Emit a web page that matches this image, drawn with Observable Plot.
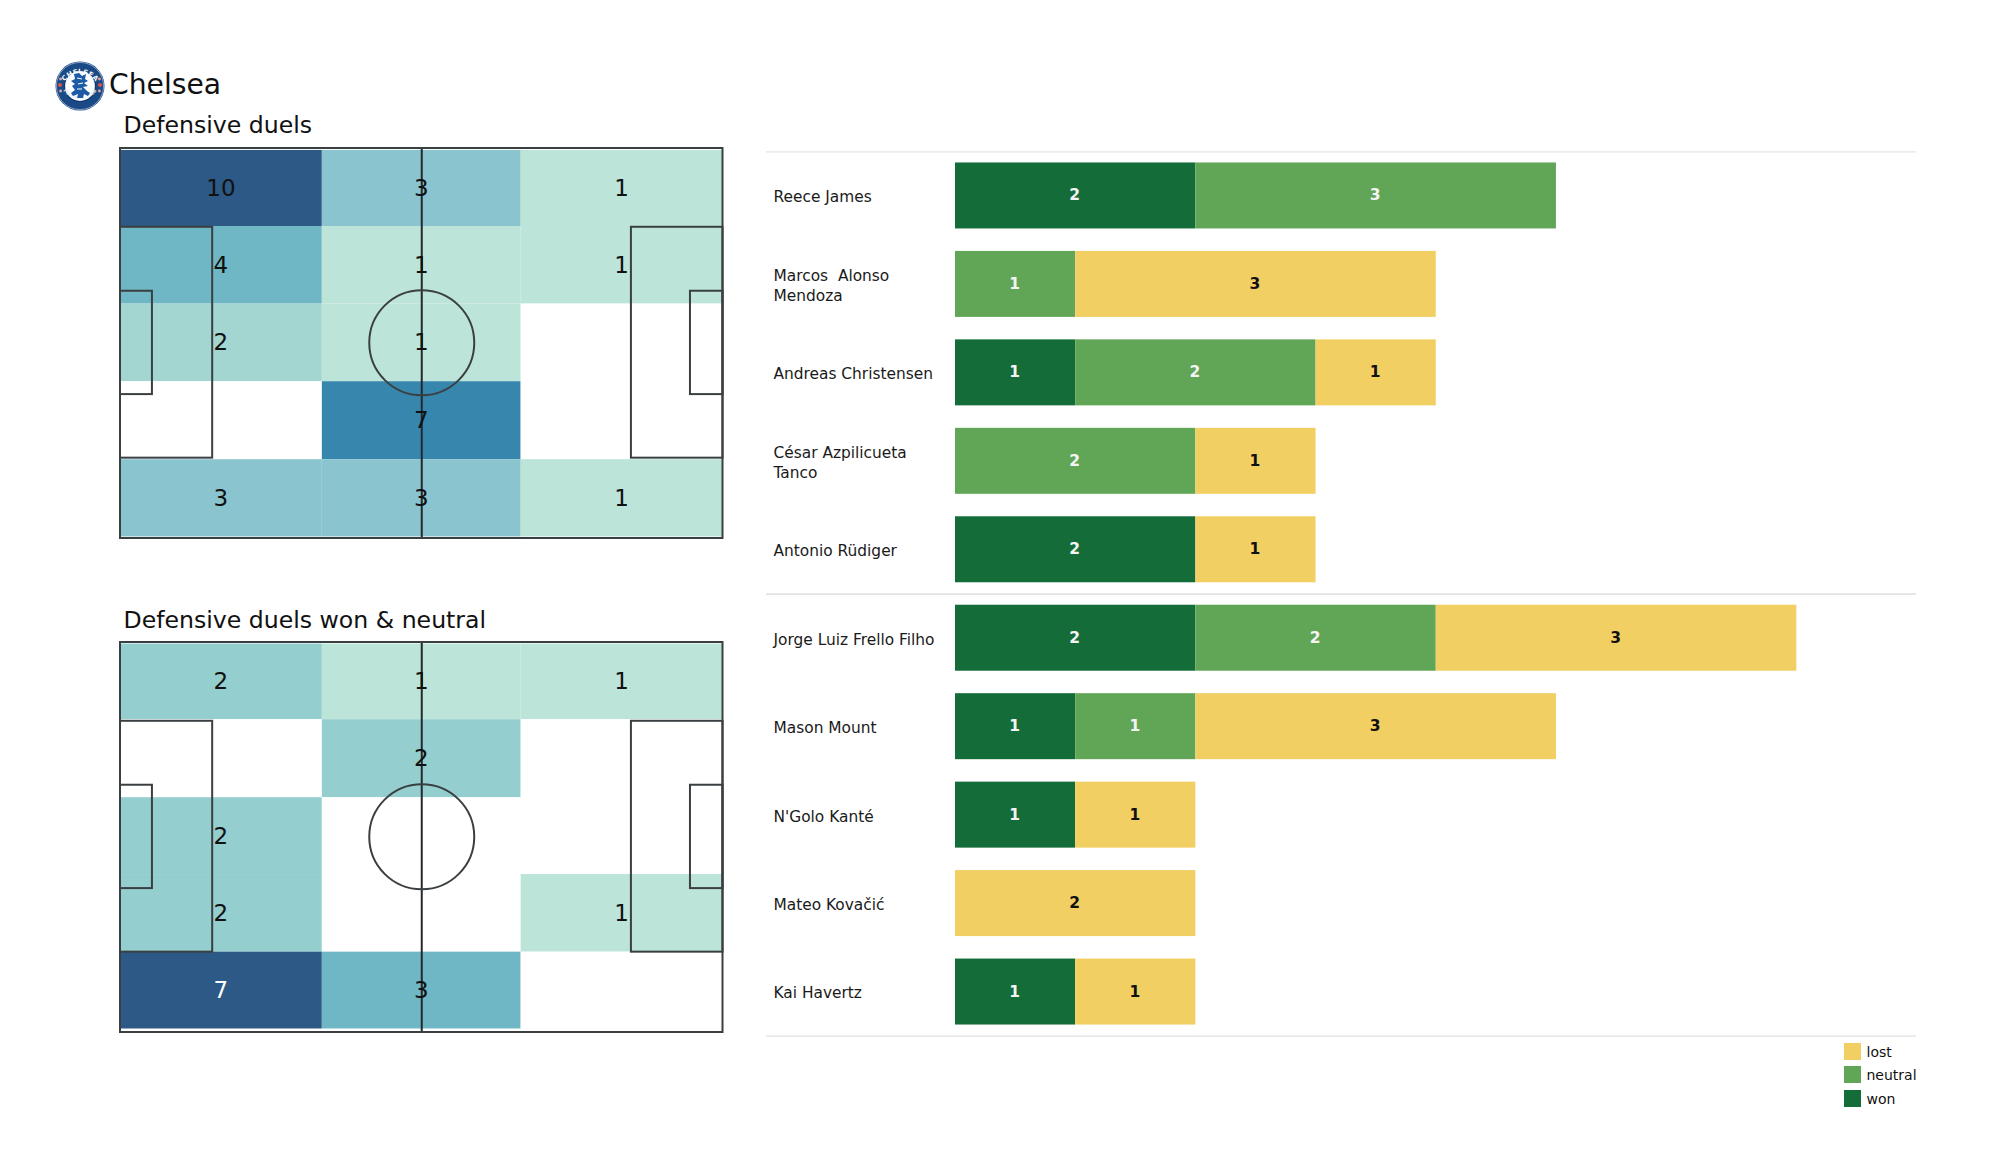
<!DOCTYPE html>
<html><head><meta charset="utf-8">
<script src="https://cdn.jsdelivr.net/npm/d3@7"></script>
<script src="https://cdn.jsdelivr.net/npm/@observablehq/plot@0.6"></script>
<style>
html,body{margin:0;padding:0;background:#fff;width:2000px;height:1175px;overflow:hidden;font-family:"DejaVu Sans",sans-serif;color:#111}
.abs{position:absolute}
.abs svg{display:block}
.ttl{position:absolute;white-space:pre;line-height:1}
</style></head><body>
<div id="root"></div>
<script>
// ---- data ----
const teamName = "Chelsea";
const heatTitles = ["Defensive duels", "Defensive duels won & neutral"];
const zoneEdgesX = [0, 33.5, 66.5, 100];
const zoneEdgesYTop = [0.5, 20, 39.9, 59.8, 79.8, 99.6];
const zoneEdgesYBottom = [0.4, 19.8, 39.8, 59.5, 79.4, 99.1];
const duelsAll = [[10,3,1],[4,1,1],[2,1,0],[0,7,0],[3,3,1]];
const duelsWonNeutral = [[2,1,1],[0,2,0],[2,0,0],[2,0,1],[7,3,0]];
const heatLevelsTop = [0,1,2,3,4,7,10];
const heatColorsTop = ["#ffffff","#bce4d9","#a3d5d1","#8ac4ce","#6fb7c4","#3786ae","#2c5985"];
const heatLevelsBottom = [0,1,2,3,7];
const heatColorsBottom = ["#ffffff","#bce4d9","#94cecf","#6fb7c4","#2c5985"];

const players = ["Reece James","Marcos  Alonso\nMendoza","Andreas Christensen","César Azpilicueta\nTanco","Antonio Rüdiger","Jorge Luiz Frello Filho","Mason Mount","N'Golo Kanté","Mateo Kovačić","Kai Havertz"];
const won     = [2,0,1,0,2,2,1,1,0,1];
const neutral = [3,1,2,2,0,2,1,0,0,0];
const lost    = [0,3,1,1,1,3,3,1,2,1];
const outcomes = ["won","neutral","lost"];
const outcomeColors = ["#146c38","#61a657","#f2cf63"];
const legendOrder = ["lost","neutral","won"];

// ---- helpers ----
const root = document.getElementById("root");
function place(node,left,top){const d=document.createElement("div");d.className="abs";d.style.left=left+"px";d.style.top=top+"px";d.appendChild(node);root.appendChild(d);return d;}
function title(txt,left,top,size){const d=document.createElement("div");d.className="ttl";d.textContent=txt;d.style.left=left+"px";d.style.top=top+"px";d.style.fontSize=size+"px";root.appendChild(d);}

// pitch furniture in pitch units (0-100 on both axes)
const boxes = [
  {x1:0,x2:15.3,y1:20.2,y2:79.4},{x1:84.8,x2:100,y1:20.2,y2:79.4},
  {x1:0,x2:5.3,y1:36.6,y2:63.1},{x1:94.6,x2:100,y1:36.6,y2:63.1}
];

function pitch(values,edgesY,levels,colors,whiteLabels){
  const cells = values.flatMap((row,r)=>row.map((v,c)=>({
    v,x1:zoneEdgesX[c],x2:zoneEdgesX[c+1],y1:edgesY[r],y2:edgesY[r+1]
  })));
  const line = "#3a3f42";
  return Plot.plot({
    width:620,height:410,marginLeft:0,marginRight:0,marginTop:0,marginBottom:0,
    x:{domain:[0,100],range:[10,612.5],axis:null},
    y:{domain:[0,100],range:[8,398],axis:null},
    color:{type:"ordinal",domain:levels,range:colors},
    style:{background:"transparent",overflow:"visible"},
    marks:[
      Plot.rect(cells,{x1:"x1",x2:"x2",y1:"y1",y2:"y2",fill:"v"}),
      Plot.rect(boxes,{x1:"x1",x2:"x2",y1:"y1",y2:"y2",stroke:line,strokeWidth:2,fill:"none"}),
      Plot.ruleX([50],{y1:0,y2:100,stroke:"#25292c",strokeWidth:2}),
      Plot.dot([{x:50,y:49.8}],{x:"x",y:"y",r:52.5,stroke:line,strokeWidth:2,fill:"none"}),
      Plot.rect([{x1:0,x2:100,y1:0,y2:100}],{x1:"x1",x2:"x2",y1:"y1",y2:"y2",stroke:line,strokeWidth:2,fill:"none"}),
      Plot.text(cells.filter(d=>d.v>0),{
        x:d=>(d.x1+d.x2)/2,y:d=>(d.y1+d.y2)/2,text:"v",fontSize:23,dx:-0.5,
        fontFamily:"DejaVu Sans",
        fill:d=>whiteLabels.includes(d.v)?"#ffffff":"#111111"
      })
    ]
  });
}

// ---- header ----
const crest = new DOMParser().parseFromString(`<svg xmlns="http://www.w3.org/2000/svg" xmlns:xlink="http://www.w3.org/1999/xlink" width="52" height="52" viewBox="-26 -26 52 52">
<defs>
<path id="arcTop" d="M-18.6 3 A19 19 0 0 1 18.6 3"/>
<path id="arcBot" d="M-19.8 -1 A21 21 0 0 0 19.8 -1"/>
</defs>
<circle r="24.5" fill="#1a4a86"/>
<circle r="23.6" fill="none" stroke="#b8c6da" stroke-width="0.7"/>
<circle r="15.5" fill="#fbfcfd" stroke="#10386f" stroke-width="1.2"/>
<text font-family="DejaVu Sans" font-size="7" font-weight="bold" fill="#f4f6fa" text-anchor="middle"><textPath xlink:href="#arcTop" href="#arcTop" startOffset="50%">CHELSEA</textPath></text>
<text font-family="DejaVu Sans" font-size="4.2" font-weight="bold" fill="#e8edf4" text-anchor="middle"><textPath xlink:href="#arcBot" href="#arcBot" startOffset="50%">FOOTBALL CLUB</textPath></text>
<path d="M-6 -12 L-1 -13 L2 -10 L6 -12 L5 -7 L8 -5 L4 -3 L8 0 L3 1 L7 5 L10 7 L8 10 L4 8 L3 12 L-3 12 L-2 8 L-7 10 L-9 7 L-5 4 L-8 0 L-5 -2 L-9 -5 L-5 -7 Z" fill="#1d5aa5"/>
<path d="M-3 -8 L2 -7 M-2 -2 L3 -3 M-3 3 L2 3" stroke="#fbfcfd" stroke-width="1" fill="none"/>
<circle cx="-20" cy="-1" r="2.1" fill="#d9534f"/><circle cx="20" cy="-1" r="2.1" fill="#d9534f"/>
<circle cx="-19.4" cy="5" r="1.4" fill="#e8a9a8"/><circle cx="19.4" cy="5" r="1.4" fill="#e8a9a8"/>
<circle cx="-19.4" cy="-7" r="1.4" fill="#e8a9a8"/><circle cx="19.4" cy="-7" r="1.4" fill="#e8a9a8"/>
</svg>`,"image/svg+xml").documentElement;
place(document.importNode(crest,true),53.5,59.5);

title(teamName,109,71,28.2);
title(heatTitles[0],123.5,114,23.6);
title(heatTitles[1],123.5,609,23.6);

// ---- heat maps ----
place(pitch(duelsAll,zoneEdgesYTop,heatLevelsTop,heatColorsTop,[]),110,140);
place(pitch(duelsWonNeutral,zoneEdgesYBottom,heatLevelsBottom,heatColorsBottom,[7]),110,633.7);

// ---- stacked bars ----
const rows = players.flatMap((p,i)=>[won[i],neutral[i],lost[i]].map((v,j)=>({player:p,outcome:outcomes[j],value:v}))).filter(d=>d.value>0);
const stackOpts = {y:"player",x:"value",order:outcomes};
const halfStep = 44.15;
const barsPlot = Plot.plot({
  width:1150,height:930,marginLeft:0,marginRight:0,marginTop:0,marginBottom:0,
  x:{domain:[0,8],range:[189,1150.5],axis:null},
  y:{type:"band",domain:players,range:[10,917],padding:0.254,round:false,axis:null,label:null},
  color:{domain:outcomes,range:outcomeColors},
  style:{background:"transparent",overflow:"visible"},
  marks:[
    Plot.ruleY([players[0]],{y:d=>d,dy:-halfStep,stroke:"#e4e4e4",strokeWidth:1.2}),
    Plot.ruleY([players[5]],{y:d=>d,dy:-halfStep,stroke:"#d8d8d8",strokeWidth:1.4}),
    Plot.ruleY([players[9]],{y:d=>d,dy:halfStep,stroke:"#e0e0e0",strokeWidth:1.2}),
    Plot.barX(rows,Plot.stackX({...stackOpts,fill:"outcome"})),
    Plot.text(rows,Plot.stackX({...stackOpts,text:"value",fontSize:15.5,fontWeight:"bold",fontFamily:"DejaVu Sans",
      fill:d=>d.outcome==="lost"?"#111111":"#f4f4f4",dx:-1,dy:-0.5})),
    Plot.text(players,{y:d=>d,frameAnchor:"left",dx:7,dy:0,textAnchor:"start",text:d=>d,fontSize:15.4,lineHeight:1.3,fontFamily:"DejaVu Sans",fill:"#1a1a1a"})
  ]
});
place(barsPlot,766,130);

// ---- legend ----
legendOrder.forEach((name,i)=>{
  const top = 1042.5 + i*23.6;
  const sw = document.createElement("div");
  sw.className="abs";
  sw.style.cssText=`left:1844px;top:${top}px;width:17px;height:17px;background:${outcomeColors[outcomes.indexOf(name)]}`;
  root.appendChild(sw);
  title(name,1866.5,top+2,14);
});
</script>
</body></html>
